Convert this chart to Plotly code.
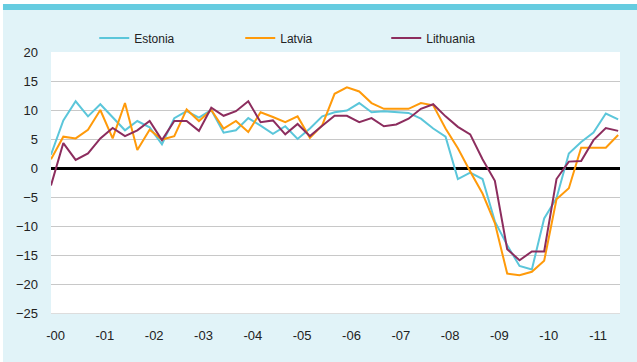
import plotly.graph_objects as go

# Quarterly series, 2000 Q1 – 2011 Q3 (per cent)
quarters = list(range(47))
estonia = [2.3, 8.2, 11.5, 8.9, 11.0, 8.7, 6.5, 8.1, 7.0, 4.1, 8.6, 9.8,
           8.7, 10.0, 6.1, 6.5, 8.6, 7.3, 5.9, 7.2, 5.0, 6.8, 8.9, 9.6,
           9.9, 11.2, 9.6, 9.8, 9.7, 9.5, 8.5, 6.8, 5.4, -1.9, -0.8, -1.9,
           -9.2, -13.3, -16.9, -17.5, -8.7, -5.2, 2.5, 4.5, 6.1, 9.4, 8.4]
latvia = [1.5, 5.4, 5.1, 6.6, 10.0, 5.1, 11.2, 3.1, 6.6, 4.9, 5.5, 10.1,
          8.1, 10.0, 6.8, 8.1, 6.2, 9.6, 8.8, 7.9, 8.9, 5.2, 7.4, 12.8,
          13.9, 13.2, 11.2, 10.2, 10.2, 10.2, 11.2, 10.8, 6.8, 3.4, -0.6, -4.4,
          -9.5, -18.2, -18.5, -17.9, -16.0, -5.4, -3.5, 3.5, 3.5, 3.5, 5.7]
lithuania = [-3.0, 4.3, 1.4, 2.5, 5.1, 6.9, 5.5, 6.5, 8.1, 4.8, 8.1, 8.1,
             6.4, 10.4, 9.0, 9.8, 11.5, 7.9, 8.2, 5.8, 7.6, 5.5, 7.3, 9.0,
             9.0, 7.9, 8.6, 7.2, 7.5, 8.5, 10.2, 11.0, 8.9, 7.1, 5.8, 1.5,
             -2.2, -14.0, -15.9, -14.4, -14.4, -1.9, 1.1, 1.2, 4.8, 6.9, 6.4]

year_labels = ["-00", "-01", "-02", "-03", "-04", "-05", "-06",
               "-07", "-08", "-09", "-10", "-11"]
y_ticks = [20, 15, 10, 5, 0, -5, -10, -15, -20, -25]

series = [("Estonia", estonia, "#5BC6DA"),
          ("Latvia", latvia, "#FF9A0A"),
          ("Lithuania", lithuania, "#8C2D5E")]

fig = go.Figure()
for name, vals, color in series:
    fig.add_trace(go.Scatter(x=quarters, y=vals, name=name, mode="lines",
                             line=dict(color=color, width=2)))

tick_font = dict(family="Liberation Sans, Arial, sans-serif", size=13, color="#222222")

fig.update_layout(
    width=637, height=362,
    margin=dict(l=51, r=17, t=52, b=49),
    paper_bgcolor="#E1F3F8",
    plot_bgcolor="#FFFFFF",
    showlegend=True,
    legend=dict(orientation="h", x=0.076, xanchor="left", y=1.054, yanchor="middle",
                bgcolor="rgba(0,0,0,0)", entrywidth=101, entrywidthmode="pixels",
                itemwidth=30,
                font=dict(family="Liberation Sans Narrow, Liberation Sans, Arial, sans-serif",
                          size=12, color="#222222")),
    xaxis=dict(range=[0, 46.15], tickvals=[4 * k + 0.37 for k in range(len(year_labels))],
               ticktext=year_labels, showgrid=False, zeroline=False, ticks="",
               showline=True, linecolor="#DDDDDD", linewidth=1,
               ticklabelstandoff=10, tickfont=tick_font),
    yaxis=dict(range=[-25, 20], tickvals=y_ticks, showgrid=True, gridcolor="#C8C8C8",
               gridwidth=1, zeroline=True, zerolinecolor="#000000", zerolinewidth=3,
               ticks="", ticklabelstandoff=12, tickfont=tick_font),
    shapes=[
        # thin white margin above and left of the panel
        dict(type="rect", xref="paper", yref="paper", x0=-0.1, x1=1.05, y0=1.184, y1=1.25,
             fillcolor="#FFFFFF", line_width=0, layer="below"),
        dict(type="rect", xref="paper", yref="paper", x0=-0.1, x1=-0.0844, y0=-0.25, y1=1.25,
             fillcolor="#FFFFFF", line_width=0, layer="below"),
        # cyan header stripe
        dict(type="rect", xref="paper", yref="paper", x0=-0.0844, x1=1.05, y0=1.161, y1=1.184,
             fillcolor="#66CCE0", line_width=0, layer="below"),
    ],
)

fig.write_html("out.html")
